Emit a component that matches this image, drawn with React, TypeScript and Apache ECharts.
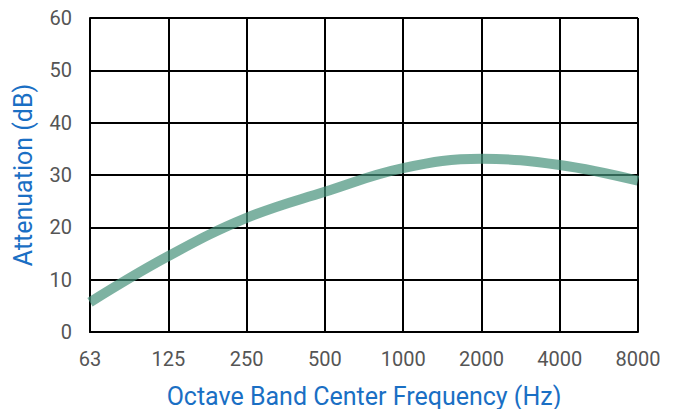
import React, { useEffect, useRef } from "react";
import * as echarts from "echarts";

const categories = ["63", "125", "250", "500", "1000", "2000", "4000", "8000"];
const attenuation = [5.7, 14.5, 21.8, 26.8, 31.3, 33.1, 31.9, 28.9];
const yMin = 0;
const yMax = 60;
const yInterval = 10;

export default function App() {
  const ref = useRef<HTMLDivElement>(null);
  useEffect(() => {
    if (!ref.current) return;
    const chart = echarts.init(ref.current, undefined, { renderer: "svg" });
    chart.setOption({
      animation: false,
      grid: { left: 90, right: 42, top: 18, bottom: 77, containLabel: false, outerBoundsMode: "none" },
      xAxis: {
        type: "category",
        data: categories,
        boundaryGap: false,
        name: "Octave Band Center Frequency (Hz)",
        nameLocation: "middle",
        nameGap: 53,
        nameTextStyle: { color: "#1a6fc4", fontSize: 25, lineHeight: 22, fontFamily: "Roboto" },
        axisLine: { show: true, lineStyle: { color: "#000", width: 2 } },
        axisTick: { show: false },
        axisLabel: { color: "#555", fontSize: 20, fontFamily: "Roboto", margin: 17 },
        splitLine: { show: true, lineStyle: { color: "#000", width: 2 } },
      },
      yAxis: {
        type: "value",
        min: yMin,
        max: yMax,
        interval: yInterval,
        name: "Attenuation (dB)",
        nameLocation: "middle",
        nameGap: 54,
        nameTextStyle: { color: "#1a6fc4", fontSize: 25, fontFamily: "Roboto" },
        axisLine: { show: true, lineStyle: { color: "#000", width: 2 } },
        axisTick: { show: false },
        axisLabel: { color: "#555", fontSize: 20, fontFamily: "Roboto", margin: 18 },
        splitLine: { show: true, lineStyle: { color: "#000", width: 2 } },
      },
      series: [
        {
          type: "line",
          data: attenuation,
          smooth: 0.4,
          showSymbol: false,
          symbol: "none",
          lineStyle: { color: "rgb(70,146,122)", width: 10, opacity: 0.7 },
          z: 5,
        },
      ],
    });
    return () => chart.dispose();
  }, []);
  return <div ref={ref} style={{ width: 680, height: 409, position: "absolute", left: 0, top: 0 }} />;
}
